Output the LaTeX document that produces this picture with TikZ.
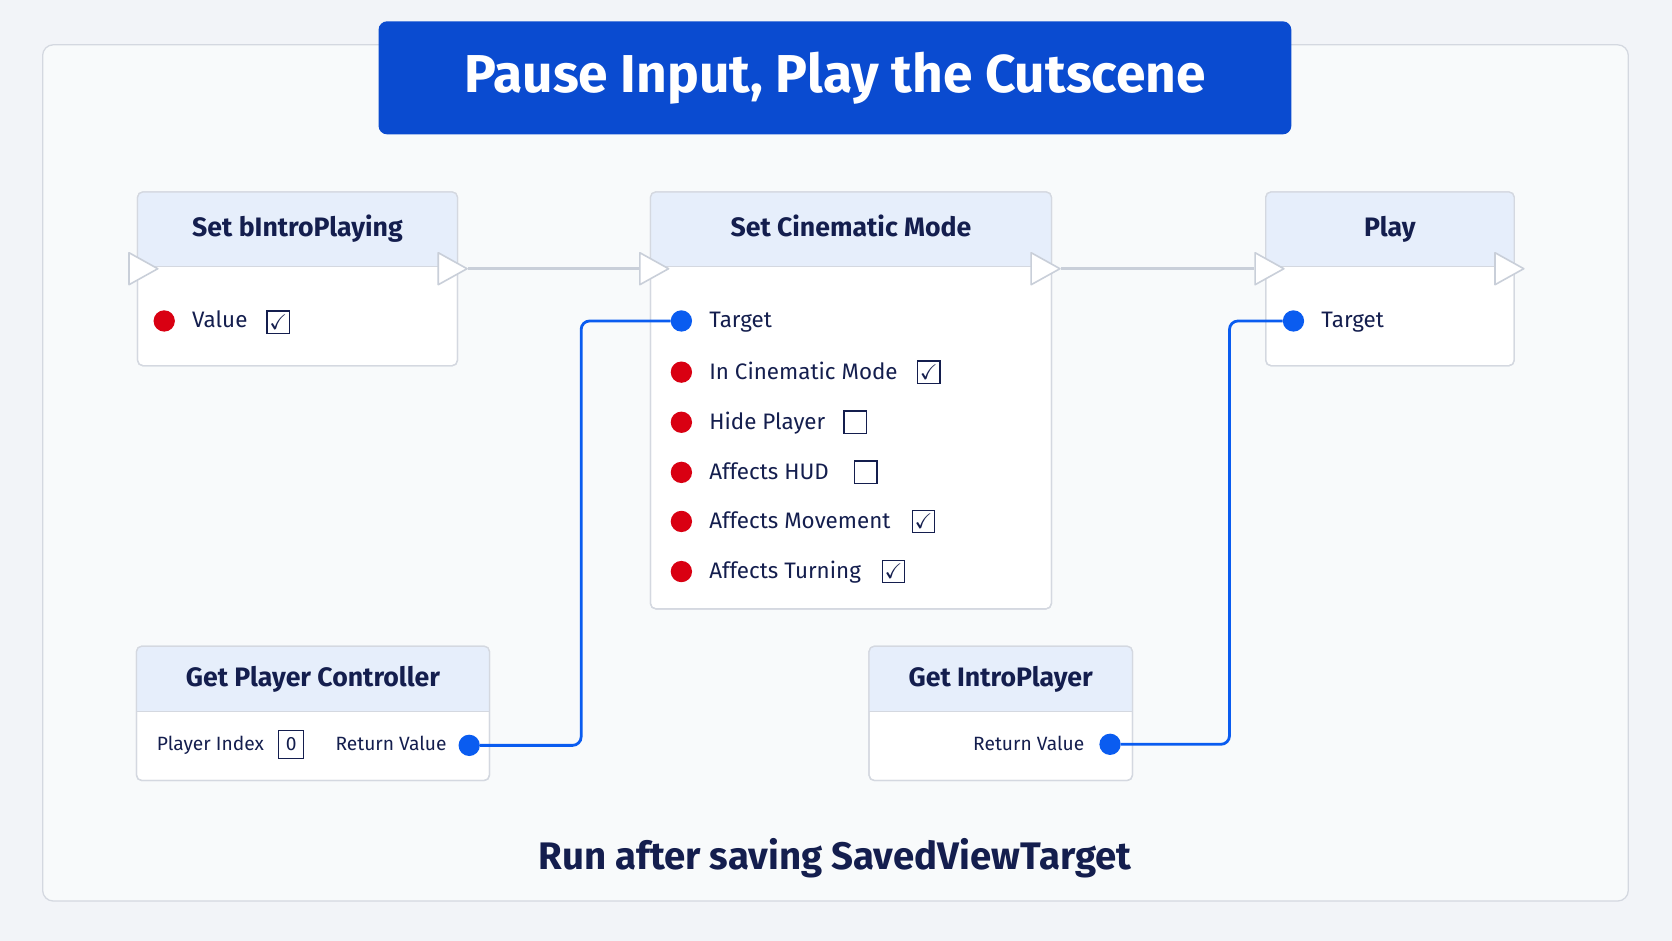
\documentclass[tikz,border=0pt]{standalone}
\usepackage{amssymb}
\usepackage{fontspec}
\setmainfont{Fira Sans}
\usetikzlibrary{calc}
\definecolor{bg}{HTML}{F2F4F8}
\definecolor{frame}{HTML}{D4D8E0}
\definecolor{titleblue}{HTML}{0A4BD0}
\definecolor{hdr}{HTML}{E6EEFB}
\definecolor{navy}{HTML}{141E4E}
\definecolor{pinred}{HTML}{D90012}
\definecolor{pinblue}{HTML}{0A5CF0}
\definecolor{execg}{HTML}{C9CFD9}
\begin{document}
\begin{tikzpicture}[x=1pt,y=-1pt,
  box/.style={draw=frame,line width=1.2pt,fill=white,rounded corners=5pt},
  ttl/.style={font=\fontsize{25}{30}\selectfont\bfseries,text=navy,text height=18pt,text depth=6pt},
  lbl/.style={font=\fontsize{21}{26}\selectfont,text=navy,anchor=west,inner sep=0,text height=15pt,text depth=4pt},
  slbl/.style={font=\fontsize{18}{23}\selectfont,text=navy,inner sep=0,text height=13pt,text depth=4pt},
  rdot/.style={circle,fill=pinred,minimum size=20pt,inner sep=0},
  bdot/.style={circle,fill=pinblue,minimum size=20pt,inner sep=0},
  chk/.style={draw=navy,line width=1.3pt,minimum size=21pt,inner sep=0,font=\fontsize{20}{20}\selectfont,text=navy},
  exec/.style={draw=execg,fill=white,line width=1.5pt,line join=round},
  wire/.style={draw=pinblue,line width=2.6pt,rounded corners=8pt},
  eline/.style={draw=execg,line width=3pt}]
\useasboundingbox (0,0) rectangle (1568,882);
\fill[bg] (0,0) rectangle (1568,882);
\draw[box,fill=bg!50!white,rounded corners=10pt,draw=frame] (40,42) rectangle (1527,845);
% title
\node[fill=titleblue,rounded corners=8pt,minimum width=856pt,minimum height=106pt,text=white,
  font=\fontsize{50}{60}\selectfont\bfseries] (title) at (783,73) {Pause Input, Play the Cutscene};
% node boxes
\newcommand{\bpnode}[6]{%
  \draw[box] (#1,#2) rectangle (#3,#4);
  \begin{scope}
  \clip[rounded corners=5pt] (#1,#2) rectangle (#3,#4);
  \fill[hdr] (#1,#2) rectangle (#3,#5);
  \end{scope}
  \draw[frame,line width=1pt] (#1,#5) -- (#3,#5);
  \draw[box,fill=none] (#1,#2) rectangle (#3,#4);
  \node[ttl] (#6) at ({(#1+#3)/2},{(#2+#5)/2+1}) {};}
\bpnode{129}{180}{429}{343}{250}{n1t}
\bpnode{610}{180}{986}{571}{250}{n2t}
\bpnode{1187}{180}{1420}{343}{250}{n3t}
\bpnode{128}{606}{459}{732}{667}{n4t}
\bpnode{815}{606}{1062}{732}{667}{n5t}
\node[ttl] at (n1t) {Set bIntroPlaying};
\node[ttl] at (n2t) {Set Cinematic Mode};
\node[ttl] at (n3t) {Play};
\node[ttl] at (n4t) {Get Player Controller};
\node[ttl] at (n5t) {Get IntroPlayer};
% exec pins
\newcommand{\execpin}[3]{\coordinate (#3) at (#1,#2);
  \draw[exec] ($(#3)+(-13,-15)$) -- ($(#3)+(14,0)$) -- ($(#3)+(-13,15)$) -- cycle;}
\execpin{134}{252}{e1i}
\execpin{424}{252}{e1o}
\execpin{613}{252}{e2i}
\execpin{980}{252}{e2o}
\execpin{1190}{252}{e3i}
\execpin{1415}{252}{e3o}
\draw[eline] ($(e1o)+(15,0)$) -- ($(e2i)+(-14,0)$);
\draw[eline] ($(e2o)+(15,0)$) -- ($(e3i)+(-14,0)$);
% node1 rows
\node[rdot] (v1) at (154,301) {};
\node[lbl] (v1l) at (180,302) {Value};
\node[chk] (v1c) at (261,302) {$\checkmark$};
% node2 rows
\node[bdot] (t2) at (639,301) {};
\node[lbl] at (665,302) {Target};
\node[rdot] (r1) at (639,349) {}; \node[lbl] at (665,350) {In Cinematic Mode}; \node[chk] at (871,349) {$\checkmark$};
\node[rdot] (r2) at (639,396) {}; \node[lbl] at (665,397) {Hide Player}; \node[chk] at (802,396) {};
\node[rdot] (r3) at (639,443) {}; \node[lbl] at (665,444) {Affects HUD}; \node[chk] at (812,443) {};
\node[rdot] (r4) at (639,489) {}; \node[lbl] at (665,490) {Affects Movement}; \node[chk] at (866,489) {$\checkmark$};
\node[rdot] (r5) at (639,536) {}; \node[lbl] at (665,537) {Affects Turning}; \node[chk] at (838,536) {$\checkmark$};
% node3
\node[bdot] (t3) at (1213,301) {};
\node[lbl] at (1239,302) {Target};
% node4
\node[slbl,anchor=west] at (147,699) {Player Index};
\node[chk,minimum width=24pt,minimum height=26pt,line width=1pt,font=\fontsize{18}{18}\selectfont] at (273,698) {0};
\node[slbl,anchor=east] at (419,699) {Return Value};
\node[bdot] (rv4) at (440,699) {};
% node5
\node[slbl,anchor=east] at (1017,699) {Return Value};
\node[bdot] (rv5) at (1041,698) {};
% wires
\draw[wire] (rv4.east) -- (545,699) -- (545,301) -- (t2.west);
\draw[wire] (rv5.east) -- (1153,698) -- (1153,301) -- (t3.west);
% caption
\node[font=\fontsize{36}{42}\selectfont\bfseries,text=navy] (cap) at (783,805) {Run after saving SavedViewTarget};
\end{tikzpicture}
\end{document}
